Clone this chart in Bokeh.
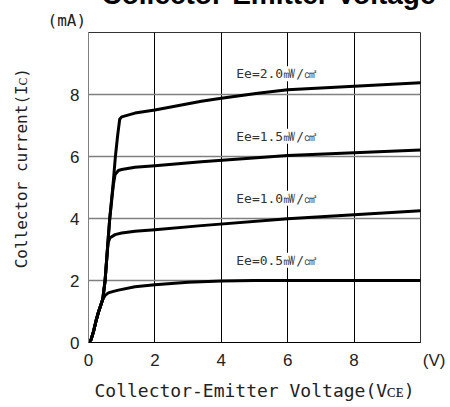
from bokeh.plotting import figure
from bokeh.models import Label, Range1d, FixedTicker, Title
from bokeh.embed import file_html
from bokeh.resources import INLINE

# Shared rising part of every curve (VCE in V, Ic in mA)
base_v = [0, 0.08, 0.15, 0.23, 0.30, 0.37, 0.43]
base_i = [0, 0.10, 0.35, 0.71, 0.98, 1.20, 1.40]

ee05_v = [0.50, 0.60, 0.75, 0.90, 1.40, 2.0, 3.0, 4.0, 5.0, 6.0, 8.0, 10.0]
ee05_i = [1.52, 1.60, 1.65, 1.69, 1.80, 1.86, 1.94, 1.98, 2.0, 2.0, 2.0, 2.0]

ee10_v = [0.50, 0.55, 0.59, 0.65, 0.80, 1.0, 1.4, 2.0, 3.4, 6.0, 8.0, 10.0]
ee10_i = [2.00, 2.70, 3.22, 3.38, 3.48, 3.53, 3.59, 3.64, 3.77, 3.99, 4.12, 4.25]

ee15_v = [0.50, 0.59, 0.64, 0.70, 0.75, 0.80, 0.90, 1.0, 1.4, 2.0, 3.4, 6.0, 8.0, 10.0]
ee15_i = [2.00, 3.30, 4.00, 4.60, 5.10, 5.42, 5.55, 5.58, 5.65, 5.70, 5.83, 6.03, 6.12, 6.21]

ee20_v = [0.50, 0.59, 0.64, 0.74, 0.81, 0.88, 0.94, 1.0, 1.4, 2.0, 3.4, 4.0, 5.1, 6.0, 8.0, 10.0]
ee20_i = [2.00, 3.30, 4.00, 5.10, 6.00, 6.70, 7.20, 7.28, 7.40, 7.50, 7.78, 7.88, 8.04, 8.15, 8.27, 8.38]

curve_names = ["Ee=0.5㎽/㎠", "Ee=1.0㎽/㎠", "Ee=1.5㎽/㎠", "Ee=2.0㎽/㎠"]
label_v = [4.45, 4.45, 4.45, 4.45]
label_i = [2.65, 4.65, 6.65, 8.67]

x_ticks = [0, 2, 4, 6, 8, 10]
x_tick_labels = {0: "0", 2: "2", 4: "4", 6: "6", 8: "8", 10: "\u00a0" * 6 + "(V)"}
y_ticks = [0, 2, 4, 6, 8]

MONO = "DejaVu Sans Mono"

p = figure(width=445, height=445, x_range=Range1d(0, 10), y_range=Range1d(0, 10),
           title=None, output_backend="svg", toolbar_location=None,
           min_border_left=88, min_border_right=25, min_border_top=70, min_border_bottom=65,
           styles={"margin-top": "-38px"})

p.background_fill_color = "white"
p.border_fill_color = "white"
p.outline_line_color = "#333333"
p.outline_line_width = 1

p.xaxis.ticker = FixedTicker(ticks=x_ticks)
p.xaxis.major_label_overrides = x_tick_labels
p.yaxis.ticker = FixedTicker(ticks=y_ticks)
for ax in (p.xaxis[0], p.yaxis[0]):
    ax.major_tick_line_color = None
    ax.minor_tick_line_color = None
    ax.major_tick_out = 0
    ax.major_tick_in = 0
    ax.major_label_text_font = "Liberation Sans"
    ax.major_label_text_font_size = "17px"
    ax.major_label_text_color = "#222222"
    ax.axis_label_text_font = MONO
    ax.axis_label_text_font_style = "normal"
    ax.axis_label_text_color = "#222222"
p.xaxis.axis_line_color = "black"
p.yaxis.axis_line_color = "#808080"
p.xaxis.major_label_standoff = 8
p.yaxis.major_label_standoff = 9
p.xaxis.axis_label = "Collector-Emitter Voltage(Vᴄᴇ)"
p.xaxis.axis_label_text_font_size = "18px"
p.xaxis.axis_label_standoff = 7
p.yaxis.axis_label = "\u00a0" * 4 + "Collector current(Iᴄ)"
p.yaxis.axis_label_text_font_size = "16px"
p.yaxis.axis_label_standoff = 36

p.xgrid.grid_line_color = "black"
p.xgrid.grid_line_width = 1
p.ygrid.grid_line_color = "#808080"
p.ygrid.grid_line_width = 1.5

for v, i in [(ee05_v, ee05_i), (ee10_v, ee10_i), (ee15_v, ee15_i), (ee20_v, ee20_i)]:
    p.line(base_v + v, base_i + i, line_color="black", line_width=3,
           line_join="round", line_cap="round")

for name, lx, ly in zip(curve_names, label_v, label_i):
    p.add_layout(Label(x=lx, y=ly, text=name, text_font=MONO, text_font_size="13px",
                       text_color="#333333", text_baseline="middle", text_align="left",
                       background_fill_color="white", background_fill_alpha=1.0))

# unit of the y axis, just above the frame
p.add_layout(Title(text="(mA)", align="left", offset=-41, standoff=5, text_font=MONO,
                   text_font_size="16px", text_font_style="normal", text_color="#222222"),
             "above")
# chart title, running off the top of the page
p.add_layout(Title(text="Collector-Emitter Voltage", align="left", offset=13, standoff=-6,
                   text_font="Liberation Sans", text_font_size="28px",
                   text_font_style="bold", text_color="black"),
             "above")

open("out.html", "w").write(file_html(p, INLINE))
